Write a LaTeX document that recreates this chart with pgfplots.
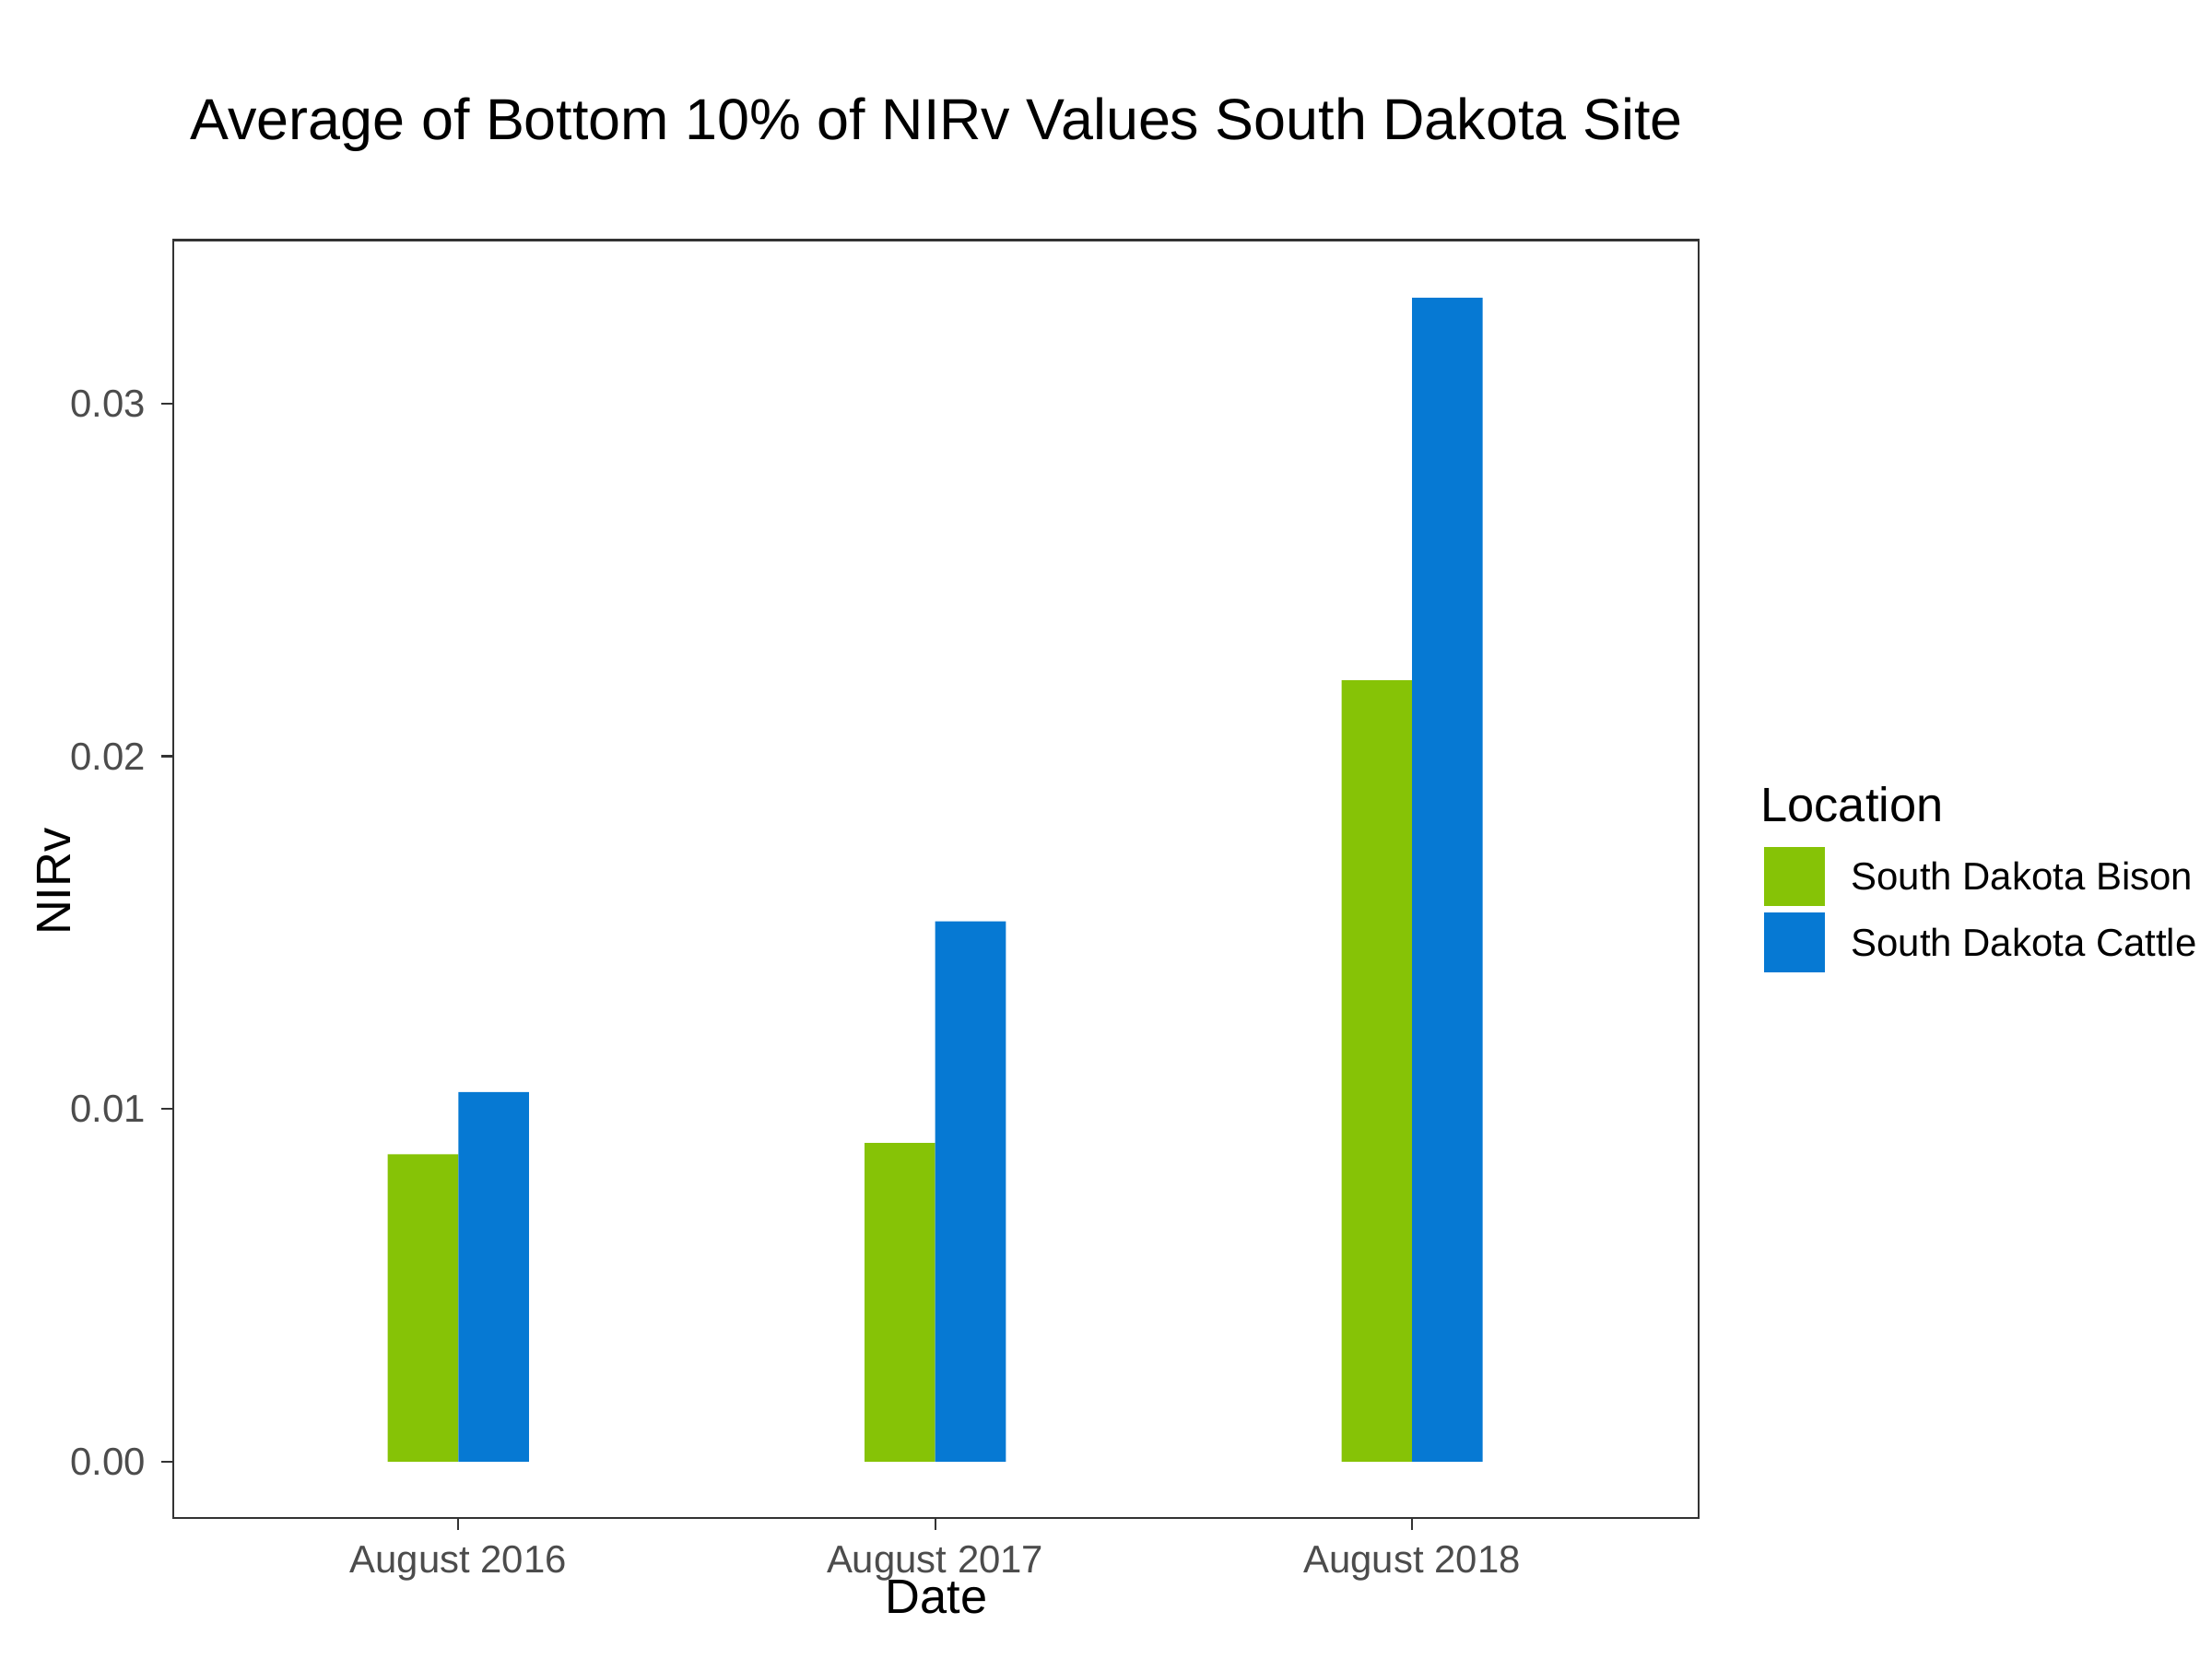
\documentclass[border=0pt]{standalone}
\usepackage{pgfplots}
\pgfplotsset{compat=1.18}
\usepackage{fontspec}
\setmainfont{Liberation Sans}
\definecolor{bison}{HTML}{86C306}
\definecolor{cattle}{HTML}{0679D3}
\begin{document}
\begin{tikzpicture}
\path (-39.5pt,-32.1pt) rectangle (464.5pt,345.9pt);
\begin{axis}[
  at={(0,0)}, anchor=south west, scale only axis,
  width=347.5pt, height=291.2pt,
  xmin=0.4024, xmax=3.6006, ymin=-0.0016, ymax=0.03464,
  xtick={1,2,3}, xticklabels={August 2016,August 2017,August 2018},
  ytick={0,0.01,0.02,0.03},
  yticklabel style={/pgf/number format/fixed,/pgf/number format/fixed zerofill,/pgf/number format/precision=2},
  /pgf/number format/assume math mode=true,
  tick label style={font=\fontsize{8.8}{10}\selectfont, text=black!70},
  tick align=outside, tickwidth=2.75pt, tick pos=left,
  major tick style={black!80, line width=0.5pt},
  axis line style={black!80, line width=0.5pt},
  ybar, bar width=0.148, bar shift=0pt,
  scaled y ticks=false,
  clip=false,
]
\addplot[draw=none, fill=bison, bar shift=-0.074] coordinates {(1,0.00872) (2,0.00904) (3,0.02216)};
\addplot[draw=none, fill=cattle, bar shift=0.074] coordinates {(1,0.01048) (2,0.01532) (3,0.0330)};
\end{axis}
\node[font=\fontsize{13.2}{15}\selectfont] at (173.9pt,317.5pt) {Average of Bottom 10\% of NIRv Values South Dakota Site};
\node[font=\fontsize{11}{13}\selectfont] at (173.9pt,-18pt) {Date};
\node[font=\fontsize{11}{13}\selectfont, rotate=90] at (-27.3pt,145pt) {NIRv};
\node[font=\fontsize{11}{13}\selectfont, anchor=west, inner sep=0pt] at (361.5pt,162.6pt) {Location};
\fill[bison] (362.5pt,139.5pt) rectangle (376.4pt,153pt);
\fill[cattle] (362.5pt,124.4pt) rectangle (376.4pt,137.9pt);
\node[font=\fontsize{8.8}{10}\selectfont, anchor=west, inner sep=0pt] at (382.1pt,146.2pt) {South Dakota Bison};
\node[font=\fontsize{8.8}{10}\selectfont, anchor=west, inner sep=0pt] at (382.1pt,131.1pt) {South Dakota Cattle};
\end{tikzpicture}
\end{document}
